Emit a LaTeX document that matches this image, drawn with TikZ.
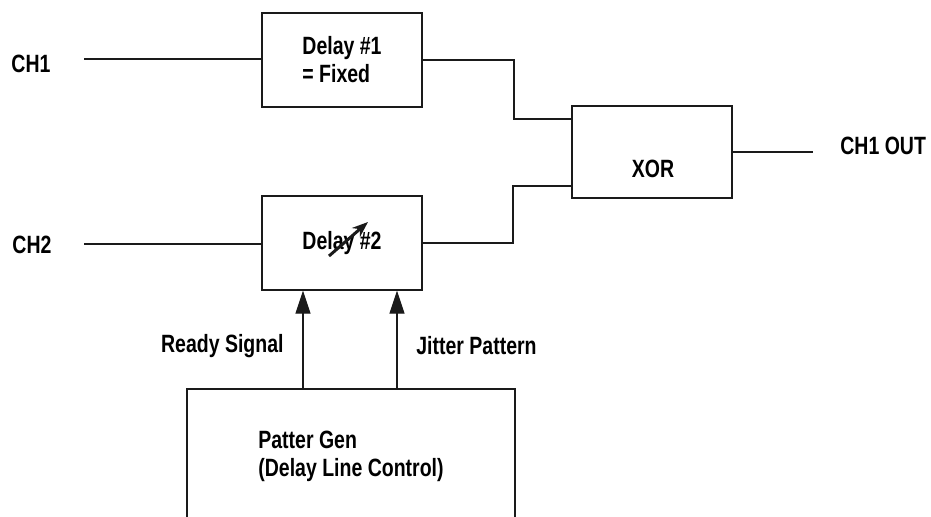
\documentclass[tikz,border=0pt]{standalone}
\usepackage{fontspec}
\setmainfont{Liberation Sans}[FakeStretch=0.78]
\usetikzlibrary{arrows.meta}
\definecolor{linecol}{HTML}{1A1A1A}

\begin{document}
\begin{tikzpicture}[x=0.5pt,y=-0.5pt,
	txt/.style={font=\fontsize{12.5}{14}\selectfont\bfseries,inner sep=0pt},
	blk/.style={draw=linecol,line width=0.6pt,minimum width=80pt,txt,align=left},
	wire/.style={draw=linecol,line width=0.6pt},
	sig/.style={wire,-{Triangle[width=7.5pt,length=11.5pt]}}]
\useasboundingbox (0,0) rectangle (931,516);
\clip (0,0) rectangle (931,516);
% blocks
\node[blk,minimum height=47pt] (delay1) at (342,60) {Delay \#1\\= Fixed};
\node[blk,minimum height=47pt] (delay2) at (342,243) {Delay \#2};
\node[blk,minimum height=46pt] (xor) at (652,152) {};
\node[txt] (xorlbl) at (653,169) {XOR};
\node[blk,minimum width=164pt,minimum height=67pt] (patgen) at (351,456) {Patter Gen\\(Delay Line Control)};
% labels
\node[txt] (ch1) at (31,64) {CH1};
\node[txt] (ch2) at (32,245) {CH2};
\node[txt,anchor=west] (ch1out) at (840,146) {CH1 OUT};
\node[txt,anchor=east] (ready) at (284,346) {Ready Signal};
\node[txt,anchor=west] (jitter) at (416,346) {Jitter Pattern};
\coordinate (ch1in) at (84,59);
\coordinate (ch2in) at (84,244);
\coordinate (xorin1) at (514,119);
\coordinate (xorin2) at (513,186);
\coordinate (xorout) at (813,152);
% wiring
\draw[wire] (ch1in) -- (ch1in -| delay1.west);
\draw[wire] (ch2in) -- (ch2in -| delay2.west);
\draw[wire] (delay1.east) -| (xorin1) -- (xorin1 -| xor.west);
\draw[wire] (delay2.east) -| (xorin2) -- (xorin2 -| xor.west);
\draw[wire] (xor.east) -- (xorout);
\foreach \x in {303,397}
	\draw[sig] (patgen.north -| \x,0) -- (delay2.south -| \x,0);
% variable delay mark
\draw[linecol,line width=1.5pt,-{Stealth[length=8pt,width=6pt]}] (329,256) -- (368,222);
\end{tikzpicture}
\end{document}
